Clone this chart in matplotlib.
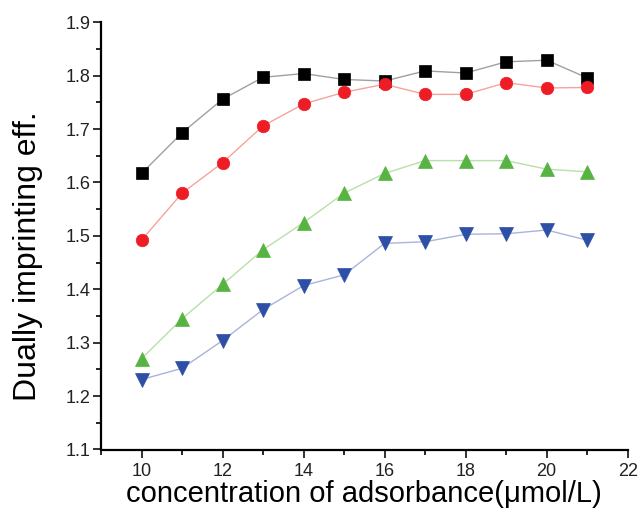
import numpy as np
import matplotlib.pyplot as plt
from matplotlib.ticker import MultipleLocator

plt.rcParams['font.family'] = ['Liberation Sans', 'DejaVu Sans']

conc = [10, 11, 12, 13, 14, 15, 16, 17, 18, 19, 20, 21]

black_sq = [1.617, 1.693, 1.756, 1.797, 1.804, 1.793, 1.790, 1.809, 1.805, 1.826, 1.829, 1.796]
red_circ = [1.492, 1.580, 1.637, 1.706, 1.747, 1.769, 1.784, 1.765, 1.765, 1.787, 1.777, 1.778]
green_up = [1.270, 1.345, 1.409, 1.474, 1.525, 1.580, 1.617, 1.641, 1.641, 1.641, 1.625, 1.620]
blue_down = [1.231, 1.252, 1.304, 1.362, 1.407, 1.427, 1.486, 1.489, 1.503, 1.504, 1.511, 1.492]

W, H = 638, 515
fig = plt.figure(figsize=(W / 100, H / 100), dpi=100)
# axes box (pixels)
ax = fig.add_axes([101 / W, 1 - 449.5 / H, (627.7 - 101) / W, (449.5 - 22.3) / H])

# marker colour, line colour (lighter)
ax.plot(conc, black_sq, color='#a0a0a0', lw=1.0, marker='s', ms=8.5,
        mfc='black', mec='black', mew=0.5)
ax.plot(conc, red_circ, color='#f5a39c', lw=1.0, marker='o', ms=9,
        mfc='#ee1c25', mec='#ee1c25', mew=0.5)
ax.plot(conc, green_up, color='#b8e0a8', lw=1.0, marker='^', ms=10.5,
        mfc='#57b442', mec='#57b442', mew=0.5)
ax.plot(conc, blue_down, color='#aab3dc', lw=1.0, marker='v', ms=10.5,
        mfc='#2d4fa6', mec='#2d4fa6', mew=0.5)

ax.set_xlim(9, 22)
ax.set_ylim(1.1, 1.9)
ax.set_xticks(np.arange(10, 23, 2))
ax.xaxis.set_minor_locator(MultipleLocator(1))
ax.yaxis.set_major_locator(MultipleLocator(0.1))
ax.yaxis.set_minor_locator(MultipleLocator(0.05))

ax.spines['top'].set_visible(False)
ax.spines['right'].set_visible(False)
ax.spines['left'].set_linewidth(1.6)
ax.spines['bottom'].set_linewidth(1.6)
ax.tick_params(which='major', direction='out', length=5.5, width=1.3,
               labelsize=13, colors='#222222')
ax.tick_params(axis='y', which='major', pad=2)
ax.tick_params(axis='x', which='major', pad=4)
ax.tick_params(which='minor', direction='out', length=3.5, width=1.2)

ax.set_xlabel('concentration of adsorbance(\u03bcmol/L)', fontsize=21, labelpad=0)
ax.set_ylabel('Dually imprinting eff.', fontsize=23)
ax.yaxis.set_label_coords(-0.11, 0.453)

fig.savefig('out.png', dpi=100)
